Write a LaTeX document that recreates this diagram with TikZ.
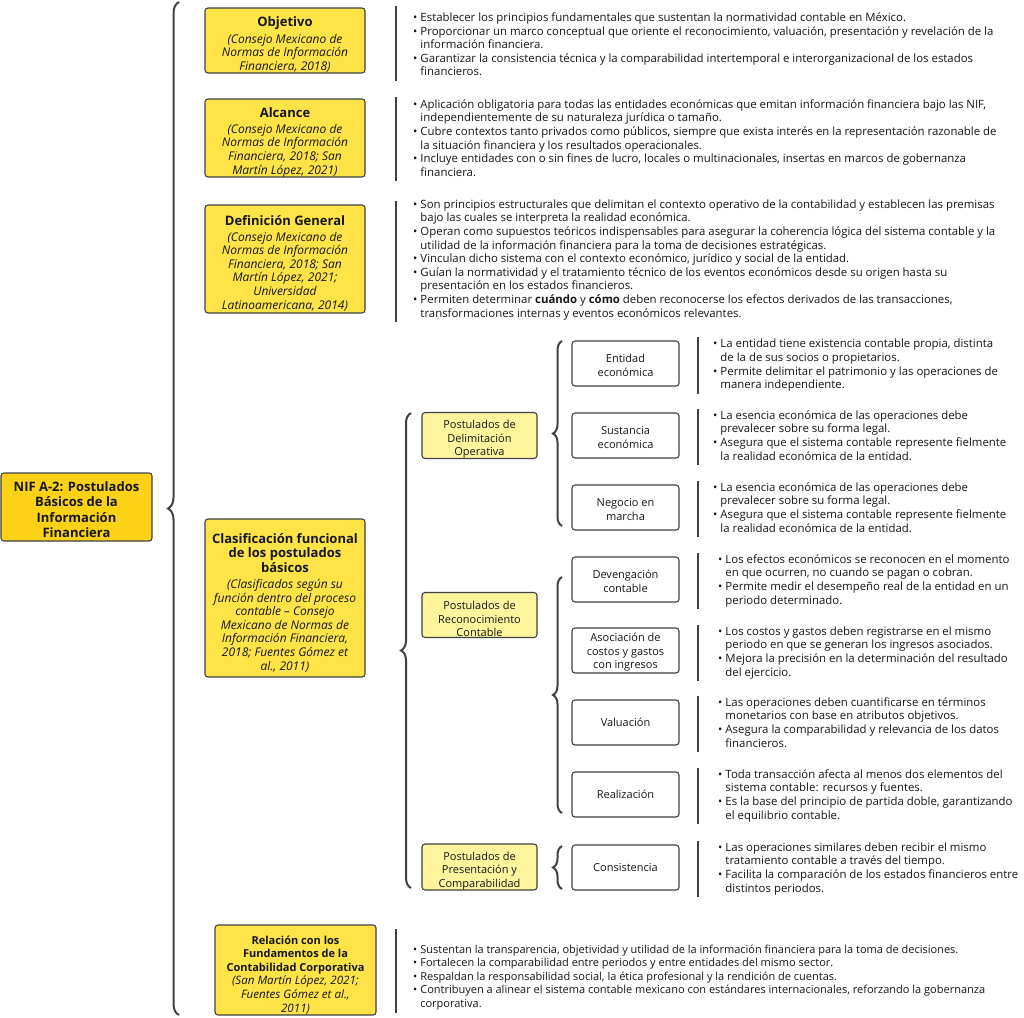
\documentclass[tikz,border=0pt]{standalone}
\usepackage{fontspec}
\setmainfont{Open Sans}
\usetikzlibrary{decorations.pathreplacing}
\definecolor{ink}{HTML}{15171A}
\definecolor{edge}{HTML}{3E4248}
\definecolor{gold}{HTML}{FCD116}
\definecolor{sun}{HTML}{FFE347}
\definecolor{pale}{HTML}{FFF59D}
\def\bu{\textbullet}
\def\up#1{\rule{0pt}{#1}}
\def\lst#1{\begin{tabular}{@{}c@{\hspace{3pt}}l@{}}#1\end{tabular}}
\def\ttl#1{\up{18pt}{\fontsize{13}{16}\selectfont\upshape\bfseries #1}\\[2.5pt]}
\def\hd#1{{\fontsize{11}{13.6}\selectfont\upshape\bfseries #1}}
\def\curly[#1](#2)(#3){\draw[brc, decoration={brace, amplitude=#1}] (#2) -- (#3);}

\begin{document}
\begin{tikzpicture}[x=1pt, y=-1pt,
		box/.style={draw=edge, line width=1.1pt, rounded corners=3pt, inner sep=0pt, align=center, text=ink},
		cite/.style={box, fill=sun, minimum width=160pt, font=\fontsize{12}{13.6}\selectfont\itshape},
		post/.style={box, fill=pale, minimum width=115pt, minimum height=45pt, font=\fontsize{11}{13.5}\selectfont},
		item/.style={box, fill=white, minimum width=107pt, minimum height=45pt, font=\fontsize{11}{13.5}\selectfont},
		txt/.style={anchor=west, inner sep=0pt, text=ink, font=\fontsize{11.4}{13.6}\selectfont},
		bar/.style={line width=2pt, color=edge},
		brc/.style={line width=2pt, color=edge, decorate}]
		%%%%% START %%%%%
		
		\fill[white] (0, 0) rectangle (1024, 1017);
		\useasboundingbox (0, 0) rectangle (1024, 1017);
		\coordinate (barL) at (396, 0);
		\coordinate (barR) at (698, 0);
		
		\node[box, fill=gold, minimum width=151pt, minimum height=68pt, font=\fontsize{13}{15.5}\selectfont\bfseries] (nif) at (76.5, 507) {\up{15.5pt}NIF A-2: Postulados\\Básicos de la\\Información\\Financiera};
		
		\curly[11pt](179, 1015)(179, 2)
		
		% left column
		\node[cite, minimum height=65pt] (obj) at (285, 40.5) {\ttl{Objetivo}(Consejo Mexicano de\\Normas de Información\\Financiera, 2018)};
		\node[cite, minimum height=78pt] (alc) at (285, 138) {\ttl{Alcance}(Consejo Mexicano de\\Normas de Información\\Financiera, 2018; San\\Martín López, 2021)};
		\node[cite, minimum height=108pt] (def) at (285, 259) {\ttl{Definición General}(Consejo Mexicano de\\Normas de Información\\Financiera, 2018; San\\Martín López, 2021;\\Universidad\\Latinoamericana, 2014)};
		\node[cite, minimum height=158pt] (cla) at (285, 598) {\up{19pt}{\fontsize{13}{15}\selectfont\upshape\bfseries Clasificación funcional}\\[1pt]{\fontsize{13}{15}\selectfont\upshape\bfseries de los postulados}\\[1pt]{\fontsize{13}{15}\selectfont\upshape\bfseries básicos}\\[2.5pt](Clasificados según su\\función dentro del proceso\\contable – Consejo\\Mexicano de Normas de\\Información Financiera,\\2018; Fuentes Gómez et\\al., 2011)};
		\node[cite, minimum width=161pt, minimum height=90pt, font=\fontsize{11.6}{13.6}\selectfont\itshape] (rel) at (295.5, 970) {\up{18pt}\hd{Relación con los}\\\hd{Fundamentos de la}\\\hd{Contabilidad Corporativa}\\(San Martín López, 2021;\\Fuentes Gómez et al.,\\2011)};
		
		% texts of the left column
		\node[txt] (tobj) at (413, 46) {\lst{
			\bu & Establecer los principios fundamentales que sustentan la normatividad contable en México.\\
			\bu & Proporcionar un marco conceptual que oriente el reconocimiento, valuación, presentación y revelación de la\\
			& información financiera.\\
			\bu & Garantizar la consistencia técnica y la comparabilidad intertemporal e interorganizacional de los estados\\
			& financieros.}};
		\node[txt] (talc) at (413, 139.5) {\lst{
			\bu & Aplicación obligatoria para todas las entidades económicas que emitan información financiera bajo las NIF,\\
			& independientemente de su naturaleza jurídica o tamaño.\\
			\bu & Cubre contextos tanto privados como públicos, siempre que exista interés en la representación razonable de\\
			& la situación financiera y los resultados operacionales.\\
			\bu & Incluye entidades con o sin fines de lucro, locales o multinacionales, insertas en marcos de gobernanza\\
			& financiera.}};
		\node[txt] (tdef) at (413, 260) {\lst{
			\bu & Son principios estructurales que delimitan el contexto operativo de la contabilidad y establecen las premisas\\
			& bajo las cuales se interpreta la realidad económica.\\
			\bu & Operan como supuestos teóricos indispensables para asegurar la coherencia lógica del sistema contable y la\\
			& utilidad de la información financiera para la toma de decisiones estratégicas.\\
			\bu & Vinculan dicho sistema con el contexto económico, jurídico y social de la entidad.\\
			\bu & Guían la normatividad y el tratamiento técnico de los eventos económicos desde su origen hasta su\\
			& presentación en los estados financieros.\\
			\bu & Permiten determinar \textbf{cuándo} y \textbf{cómo} deben reconocerse los efectos derivados de las transacciones,\\
			& transformaciones internas y eventos económicos relevantes.}};
		\node[txt, font=\fontsize{11}{13.6}\selectfont] (trel) at (413, 977.5) {\lst{
			\bu & Sustentan la transparencia, objetividad y utilidad de la información financiera para la toma de decisiones.\\
			\bu & Fortalecen la comparabilidad entre periodos y entre entidades del mismo sector.\\
			\bu & Respaldan la responsabilidad social, la ética profesional y la rendición de cuentas.\\
			\bu & Contribuyen a alinear el sistema contable mexicano con estándares internacionales, reforzando la gobernanza\\
			& corporativa.}};
		
		\draw[bar] ([yshift=6pt]tobj.north -| barL) -- ([yshift=-1pt]tobj.south -| barL);
		\draw[bar] ([yshift=2pt]talc.north -| barL) -- (talc.south -| barL);
		\draw[bar] ([yshift=-2pt]tdef.north -| barL) -- ([yshift=-1pt]tdef.south -| barL);
		\draw[bar] ([yshift=-5pt]rel.north -| barL) -- ([yshift=3pt]rel.south -| barL);
		
		% postulados
		\curly[10pt](411, 888)(411, 413)
		
		\node[post] (del) at (479.5, 435.5) {\up{16.3pt}Postulados de\\Delimitación\\Operativa};
		\node[post] (rec) at (479.5, 615) {\up{16.3pt}Postulados de\\Reconocimiento\\Contable};
		\node[post] (pre) at (479.5, 867) {\up{16.3pt}Postulados de\\Presentación y\\Comparabilidad};
		
		\curly[9pt](562, 526)(562, 341)
		\curly[9pt](562, 813)(562, 577)
		\curly[9pt](562, 889)(562, 846)
		
		\node[item] (ent) at (625.5, 363.5) {\up{12.3pt}Entidad\\económica};
		\node[item] (sus) at (625.5, 435.5) {\up{12.3pt}Sustancia\\económica};
		\node[item] (neg) at (625.5, 507.5) {\up{12.3pt}Negocio en\\marcha};
		\node[item] (dev) at (625.5, 579.5) {\up{12.3pt}Devengación\\contable};
		\node[item] (aso) at (625.5, 650.5) {\up{12.3pt}Asociación de\\costos y gastos\\con ingresos};
		\node[item] (val) at (625.5, 722.5) {Valuación};
		\node[item] (rea) at (625.5, 794.5) {Realización};
		\node[item] (con) at (625.5, 867.5) {Consistencia};
		
		% texts of the right column
		\node[txt] (tent) at (713, 365.5) {\lst{
			\bu & La entidad tiene existencia contable propia, distinta\\
			& de la de sus socios o propietarios.\\
			\bu & Permite delimitar el patrimonio y las operaciones de\\
			& manera independiente.}};
		\node[txt] (tsus) at (713, 437) {\lst{
			\bu & La esencia económica de las operaciones debe\\
			& prevalecer sobre su forma legal.\\
			\bu & Asegura que el sistema contable represente fielmente\\
			& la realidad económica de la entidad.}};
		\node[txt] (tneg) at (713, 509) {\lst{
			\bu & La esencia económica de las operaciones debe\\
			& prevalecer sobre su forma legal.\\
			\bu & Asegura que el sistema contable represente fielmente\\
			& la realidad económica de la entidad.}};
		\node[txt] (tdev) at (718, 581) {\lst{
			\bu & Los efectos económicos se reconocen en el momento\\
			& en que ocurren, no cuando se pagan o cobran.\\
			\bu & Permite medir el desempeño real de la entidad en un\\
			& periodo determinado.}};
		\node[txt] (taso) at (718, 653) {\lst{
			\bu & Los costos y gastos deben registrarse en el mismo\\
			& periodo en que se generan los ingresos asociados.\\
			\bu & Mejora la precisión en la determinación del resultado\\
			& del ejercicio.}};
		\node[txt] (tval) at (718, 724) {\lst{
			\bu & Las operaciones deben cuantificarse en términos\\
			& monetarios con base en atributos objetivos.\\
			\bu & Asegura la comparabilidad y relevancia de los datos\\
			& financieros.}};
		\node[txt] (trea) at (718, 796) {\lst{
			\bu & Toda transacción afecta al menos dos elementos del\\
			& sistema contable: recursos y fuentes.\\
			\bu & Es la base del principio de partida doble, garantizando\\
			& el equilibrio contable.}};
		\node[txt] (tcon) at (718, 869) {\lst{
			\bu & Las operaciones similares deben recibir el mismo\\
			& tratamiento contable a través del tiempo.\\
			\bu & Facilita la comparación de los estados financieros entre\\
			& distintos periodos.}};
		
		\foreach \t in {tent, tsus, tneg, tdev, taso, tval, trea, tcon}
			\draw[bar] ([yshift=1pt]\t.north -| barR) -- ([yshift=-1pt]\t.south -| barR);
		
		%%%%% END %%%%%
	\end{tikzpicture}
\end{document}
